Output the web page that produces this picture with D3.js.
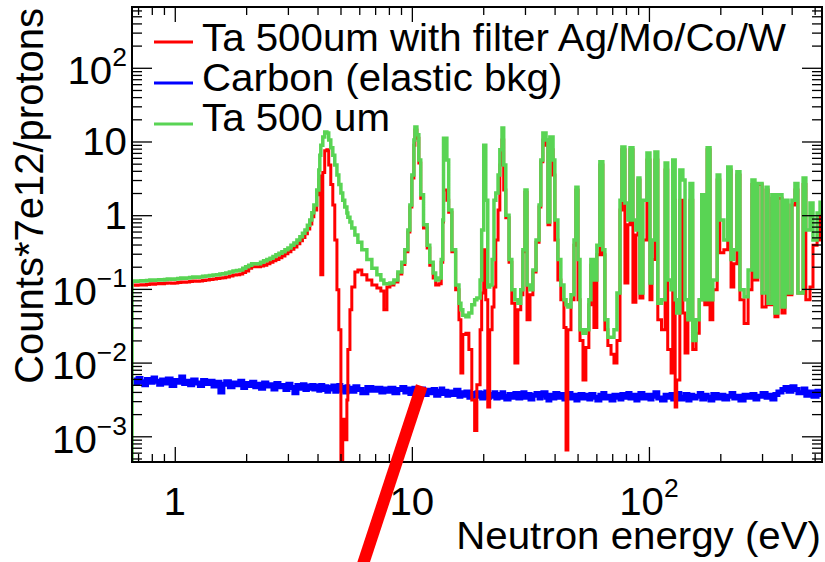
<!DOCTYPE html>
<html>
<head>
<meta charset="utf-8">
<script src="https://cdn.jsdelivr.net/npm/d3@7"></script>
<style>
body { margin: 0; background: #fff; }
svg { display: block; }
text { font-family: "Liberation Sans", Arial, Helvetica, sans-serif; fill: #000; }
</style>
</head>
<body>
<div id="chart"></div>
<script>

// bin low edges, neutron energy in eV
var energy = [
  0.66, 0.68, 0.70, 0.72, 0.74, 0.76, 0.785, 0.81, 0.83, 0.855,
  0.88, 0.905, 0.93, 0.965, 1.0, 1.03, 1.06, 1.09, 1.12, 1.155,
  1.19, 1.23, 1.27, 1.31, 1.35, 1.40, 1.45, 1.50, 1.55, 1.595,
  1.64, 1.70, 1.76, 1.82, 1.88, 1.935, 1.99, 2.05, 2.11, 2.175,
  2.24, 2.30, 2.37, 2.445, 2.52, 2.595, 2.67, 2.75, 2.83, 2.915,
  3.0, 3.09, 3.18, 3.275, 3.37, 3.455, 3.54, 3.625, 3.71, 3.785,
  3.86, 3.97, 4.05, 4.09, 4.13, 4.21, 4.29, 4.38, 4.46, 4.55,
  4.64, 4.73, 4.83, 4.92, 5.02, 5.11, 5.21, 5.32, 5.37, 5.48,
  5.58, 5.75, 5.92, 6.15, 6.46, 6.78, 7.12, 7.40, 7.62, 7.85,
  8.08, 8.40, 8.73, 9.07, 9.34, 9.62, 9.81, 10.0, 10.2, 10.3,
  10.5, 10.7, 10.9, 11.2, 11.6, 11.9, 12.3, 12.6, 13.0, 13.3,
  13.5, 13.6, 14.05, 14.3, 14.75, 15.3, 15.8, 16.1, 16.4, 16.9,
  17.4, 17.9, 18.4, 18.8, 19.4, 19.7, 20.1, 20.5, 20.9, 21.3,
  21.8, 22.2, 22.6, 23.1, 23.5, 24.0, 24.4, 24.9, 25.7, 26.4,
  27.2, 28.0, 28.8, 29.4, 30.0, 30.6, 31.5, 32.4, 33.4, 34.4,
  35.0, 35.7, 36.8, 37.5, 38.2, 39.4, 40.1, 41.3, 42.5, 43.8,
  44.7, 45.5, 46.9, 48.3, 49.2, 50.2, 51.2, 52.7, 54.2, 55.8,
  56.9, 58.6, 60.3, 62.1, 63.9, 65.2, 67.1, 69.2, 71.2, 73.3,
  75.5, 76.9, 79.2, 81.5, 83.2, 85.6, 88.1, 89.9, 91.6, 94.3,
  98.1, 101, 103, 106, 109, 113, 117, 120, 124, 126,
  129, 131, 135, 139, 142, 146, 149, 153, 158, 163,
  167, 172, 176, 181, 186, 194, 199, 207, 215, 222,
  228, 235, 242, 252, 262, 272, 280, 288, 300, 312,
  318, 330, 340, 350, 364, 375, 386, 401, 413, 425,
  447, 459, 478, 492, 512, 527
];

// Ta 500 um with filter Ag/Mo/Co/W (red)
var taFiltered = [
  0.113, 0.112, 0.113, 0.114, 0.113, 0.115, 0.117, 0.116, 0.117, 0.118,
  0.117, 0.119, 0.12, 0.119, 0.12, 0.122, 0.124, 0.123, 0.124, 0.126,
  0.128, 0.127, 0.128, 0.13, 0.132, 0.134, 0.136, 0.138, 0.14, 0.142,
  0.145, 0.15, 0.154, 0.156, 0.159, 0.167, 0.175, 0.19, 0.2, 0.2,
  0.2, 0.205, 0.21, 0.22, 0.23, 0.24, 0.25, 0.265, 0.28, 0.3,
  0.32, 0.345, 0.37, 0.41, 0.45, 0.5, 0.56, 0.65, 0.76, 0.95,
  1.18, 1.9, 3.0, 3.4, 0.155, 3.8, 7.5, 7.7, 4.8, 2.6,
  1.37, 0.46, 0.097, 0.028, 0.0003, 0.0017, 0.0009, 0.0031, 0.015, 0.052,
  0.106, 0.17, 0.18, 0.155, 0.132, 0.113, 0.103, 0.094, 0.052, 0.106,
  0.113, 0.124, 0.159, 0.215, 0.32, 0.59, 1.29, 3.2, 8.9, 14.3,
  11.1, 5.1, 1.7, 0.67, 0.36, 0.21, 0.14, 0.113, 0.117, 0.23,
  0.81, 2.2, 1.6, 1.1, 0.32, 0.097, 0.038, 0.0072, 0.024, 0.025,
  0.015, 0.0031, 0.0012, 0.005, 0.028, 0.088, 0.34, 0.071, 0.0025, 0.028,
  0.057, 0.106, 0.46, 1.18, 4.8, 10.5, 2.2, 0.92, 0.23, 0.064,
  0.0099, 0.052, 0.083, 0.32, 2.05, 0.038, 0.083, 0.17, 0.43, 1.29,
  5.3, 10.5, 8.9, 0.74, 7.7, 3.5, 0.46, 0.132, 0.071, 0.03,
  0.00065, 0.028, 0.071, 0.39, 2.2, 0.071, 0.02, 0.0058, 0.016, 0.061,
  0.21, 0.03, 0.29, 4.8, 0.29, 0.028, 0.017, 0.013, 0.0099, 0.02,
  1.18, 7.7, 0.12, 0.74, 7.7, 0.066, 0.54, 3.0, 0.075, 0.46,
  5.6, 0.071, 0.25, 5.6, 0.038, 0.028, 4.1, 0.015, 0.0072, 1.6,
  0.0025, 0.0058, 1.6, 0.047, 0.0135, 0.038, 1.6, 0.015, 0.025, 0.071,
  1.6, 0.061, 7.7, 0.038, 0.097, 3.0, 0.31, 0.34, 4.1, 0.106,
  0.22, 3.5, 0.071, 0.034, 0.097, 2.6, 0.132, 2.6, 0.057, 2.2,
  0.061, 1.7, 0.042, 1.7, 0.047, 1.37, 0.083, 1.37, 2.2, 0.088,
  2.6, 0.071, 0.106, 0.39, 0.46, 1.0
];

// Carbon (elastic bkg) (blue)
var carbon = [
  0.0058, 0.0052, 0.0061, 0.0055, 0.0050, 0.0059, 0.0054, 0.0062, 0.0056, 0.0051,
  0.0058, 0.0053, 0.0060, 0.0049, 0.0057, 0.0054, 0.0064, 0.0052, 0.0056, 0.0050,
  0.0058, 0.0053, 0.0049, 0.0057, 0.0052, 0.0056, 0.0048, 0.0054, 0.0040, 0.0051,
  0.0055, 0.0047, 0.0053, 0.0050, 0.0056, 0.0046, 0.0052, 0.0049, 0.0054, 0.0047,
  0.0051, 0.0045, 0.0053, 0.0048, 0.0050, 0.0044, 0.0052, 0.0047, 0.0049, 0.0043,
  0.0051, 0.0046, 0.0039, 0.0049, 0.0045, 0.0050, 0.0043, 0.0048, 0.0045, 0.0049,
  0.0044, 0.0048, 0.0042, 0.0046, 0.0049, 0.0043, 0.0047, 0.0041, 0.0046, 0.0044,
  0.0048, 0.0041, 0.0045, 0.0049, 0.0042, 0.0046, 0.0040, 0.0047, 0.0043, 0.0045,
  0.0041, 0.0047, 0.0043, 0.0039, 0.0046, 0.0042, 0.0045, 0.0040, 0.0044, 0.0041,
  0.0045, 0.0039, 0.0043, 0.0046, 0.0040, 0.0044, 0.0038, 0.0042, 0.0045, 0.0039,
  0.0043, 0.0040, 0.0044, 0.0037, 0.0042, 0.0039, 0.0043, 0.0036, 0.0041, 0.0044,
  0.0038, 0.0041, 0.0036, 0.0040, 0.0037, 0.0042, 0.0035, 0.0039, 0.0036, 0.0040,
  0.0034, 0.0038, 0.0035, 0.0039, 0.0036, 0.0033, 0.0038, 0.0040, 0.0034, 0.0037,
  0.0035, 0.0039, 0.0033, 0.0037, 0.0034, 0.0039, 0.0035, 0.0032, 0.0037, 0.0034,
  0.0038, 0.0033, 0.0036, 0.0039, 0.0034, 0.0037, 0.0032, 0.0036, 0.0038, 0.0033,
  0.0036, 0.0039, 0.0034, 0.0031, 0.0036, 0.0033, 0.0038, 0.0034, 0.0037, 0.0032,
  0.0035, 0.0038, 0.0033, 0.0036, 0.0031, 0.0035, 0.0037, 0.0033, 0.0036, 0.0032,
  0.0037, 0.0034, 0.0031, 0.0036, 0.0038, 0.0033, 0.0035, 0.0031, 0.0036, 0.0034,
  0.0032, 0.0037, 0.0034, 0.0038, 0.0033, 0.0036, 0.0031, 0.0035, 0.0038, 0.0033,
  0.0036, 0.0032, 0.0035, 0.0039, 0.0033, 0.0031, 0.0036, 0.0034, 0.0037, 0.0032,
  0.0035, 0.0038, 0.0032, 0.0034, 0.0037, 0.0031, 0.0036, 0.0033, 0.0035, 0.0038,
  0.0032, 0.0036, 0.0034, 0.0031, 0.0037, 0.0033, 0.0036, 0.0032, 0.0035, 0.0038,
  0.0033, 0.0035, 0.0031, 0.0036, 0.0034, 0.0037, 0.0032, 0.0035, 0.0038, 0.0034,
  0.0036, 0.0032, 0.0037, 0.0040, 0.0043, 0.0046, 0.0041, 0.0047, 0.0043, 0.0039,
  0.0044, 0.0036, 0.0040, 0.0035, 0.0041, 0.0037
];

// Ta 500 um (green)
var ta500 = [
  0.128, 0.127, 0.128, 0.129, 0.128, 0.130, 0.132, 0.131, 0.132, 0.133,
  0.132, 0.134, 0.136, 0.135, 0.136, 0.138, 0.14, 0.139, 0.14, 0.143,
  0.145, 0.144, 0.145, 0.148, 0.15, 0.152, 0.154, 0.156, 0.159, 0.161,
  0.164, 0.17, 0.175, 0.177, 0.18, 0.19, 0.2, 0.21, 0.22, 0.22,
  0.22, 0.23, 0.24, 0.25, 0.26, 0.275, 0.29, 0.305, 0.32, 0.34,
  0.36, 0.39, 0.42, 0.46, 0.51, 0.57, 0.63, 0.73, 0.86, 1.08,
  1.37, 2.2, 4.1, 6.5, 8.9, 11.5, 13.5, 13, 10.5, 8.2,
  6.5, 4.8, 3.5, 2.6, 2.0, 1.6, 1.29, 1.07, 0.94, 0.81,
  0.67, 0.54, 0.43, 0.34, 0.25, 0.19, 0.155, 0.132, 0.117, 0.117,
  0.12, 0.132, 0.17, 0.23, 0.34, 0.63, 1.37, 3.5, 10.5, 15.7,
  12.3, 5.6, 1.9, 0.74, 0.39, 0.23, 0.164, 0.132, 0.14, 0.25,
  0.86, 11.1, 5.6, 1.18, 0.34, 0.113, 0.064, 0.052, 0.044, 0.042,
  0.047, 0.061, 0.071, 0.075, 0.132, 0.63, 8.9, 1.6, 0.106, 0.113,
  0.25, 1.6, 2.0, 3.5, 7.7, 15.2, 4.8, 1.0, 0.25, 0.097,
  0.071, 0.064, 0.097, 0.34, 2.2, 0.113, 0.097, 0.18, 0.46, 1.37,
  5.6, 13, 10.5, 0.81, 11.5, 5.6, 0.86, 0.25, 0.113, 0.071,
  0.061, 0.057, 0.083, 0.46, 2.4, 0.25, 0.028, 0.025, 0.028, 0.071,
  0.25, 0.132, 0.39, 5.3, 0.34, 0.038, 0.022, 0.022, 0.028, 0.088,
  1.6, 8.4, 1.46, 0.86, 8.2, 0.86, 0.63, 3.2, 0.088, 1.6,
  7.0, 0.12, 0.46, 7.2, 0.064, 0.071, 5.1, 0.132, 0.097, 5.6,
  0.071, 0.047, 4.1, 3.0, 0.071, 0.038, 2.7, 0.02, 0.038, 0.071,
  1.9, 0.071, 8.2, 0.071, 0.132, 3.5, 0.86, 0.46, 4.5, 0.25,
  0.34, 3.9, 0.097, 0.078, 0.18, 3.0, 0.145, 2.7, 0.088, 2.4,
  0.064, 1.9, 0.047, 1.9, 0.057, 1.6, 0.088, 1.6, 2.7, 0.088,
  3.2, 0.63, 1.46, 0.46, 1.07, 1.5
];

var legendLabels = ["Ta 500um with filter Ag/Mo/Co/W", "Carbon (elastic bkg)", "Ta 500 um"];
var legendColors = ["#ff0000", "#0000ff", "#59d454"];

var xTitle = "Neutron energy (eV)";
var yTitle = "Counts*7e12/protons";

// thick red pointer drawn over the plot (data coords: tip, tail)
var pointerTip = [11.0, 4.8e-3],
    pointerTail = [5.9, 1.1e-5];

var margin = {top: 7, right: 3, bottom: 100, left: 132},
    width = 825 - margin.left - margin.right,
    height = 562 - margin.top - margin.bottom;

var fs = 38, sx = 1.06;

var svg = d3.select("#chart")
  .append("svg")
    .attr("width", 825)
    .attr("height", 562);

var x = d3.scaleLog().domain([0.66, 537]).range([0, width]);
var y = d3.scaleLog().domain([4.48e-4, 668]).range([height, 0]);

svg.append("defs").append("clipPath").attr("id", "plotclip")
  .append("rect").attr("width", width).attr("height", height);

var g = svg.append("g")
  .attr("transform", "translate(" + margin.left + "," + margin.top + ")");

var plot = g.append("g").attr("clip-path", "url(#plotclip)");

function histPoints(vals) {
  var pts = energy.map(function(e, i) { return [e, vals[i]]; });
  pts.push([x.domain()[1], vals[vals.length - 1]]);
  return pts;
}

var line = d3.line()
  .x(function(d) { return x(d[0]); })
  .y(function(d) { return y(d[1]); })
  .curve(d3.curveStepAfter);

plot.append("path")
  .attr("d", line(histPoints(carbon)))
  .attr("fill", "none")
  .attr("stroke", legendColors[1])
  .attr("stroke-width", 5);

plot.append("path")
  .attr("d", line(histPoints(taFiltered)))
  .attr("fill", "none")
  .attr("stroke", legendColors[0])
  .attr("stroke-width", 3);

// green histogram rises from the bottom at its first bin
var greenPts = histPoints(ta500);
greenPts.unshift([energy[0], y.domain()[0]]);
plot.append("path")
  .attr("d", line(greenPts))
  .attr("fill", "none")
  .attr("stroke", legendColors[2])
  .attr("stroke-width", 3.5);

// ticks on all four sides, pointing inward
function isMajor(v) { var l = Math.log10(v); return Math.abs(l - Math.round(l)) < 1e-6; }
var xAll = x.ticks(), yAll = y.ticks();
var xMaj = xAll.filter(isMajor), xMin = xAll.filter(function(v) { return !isMajor(v); });
var yMaj = yAll.filter(isMajor), yMin = yAll.filter(function(v) { return !isMajor(v); });
var noLabel = function() { return ""; };

function ticks(axis, vals, len, tr) {
  g.append("g")
    .attr("transform", tr)
    .call(axis.tickValues(vals).tickSizeInner(-len).tickSizeOuter(0).tickFormat(noLabel))
    .call(function(a) {
      a.select(".domain").remove();
      a.selectAll("line").attr("stroke", "#000").attr("stroke-width", 1.3);
    });
}
ticks(d3.axisBottom(x), xMaj, 15, "translate(0," + height + ")");
ticks(d3.axisBottom(x), xMin, 8, "translate(0," + height + ")");
ticks(d3.axisTop(x), xMaj, 15, "translate(0,0)");
ticks(d3.axisTop(x), xMin, 8, "translate(0,0)");
ticks(d3.axisLeft(y), yMaj, 20, "translate(0,0)");
ticks(d3.axisLeft(y), yMin, 10, "translate(0,0)");
ticks(d3.axisRight(y), yMaj, 20, "translate(" + width + ",0)");
ticks(d3.axisRight(y), yMin, 10, "translate(" + width + ",0)");

g.append("rect")
  .attr("width", width)
  .attr("height", height)
  .attr("fill", "none")
  .attr("stroke", "#000")
  .attr("stroke-width", 2);

// tick labels, ROOT style 10^n
function powLabel(t, v) {
  var e = Math.round(Math.log10(v));
  if (e === 0 || e === 1) { t.text(String(Math.round(v))); return false; }
  t.append("tspan").text("10");
  t.append("tspan").attr("dy", -18).style("font-size", "25px")
    .text(e < 0 ? "\u2212" + (-e) : String(e));
  return true;
}

xMaj.forEach(function(v) {
  var t = svg.append("text")
    .attr("text-anchor", "middle")
    .style("font-size", fs + "px")
    .attr("transform", "translate(" + (margin.left + x(v)) + ",515) scale(" + sx + ",1)");
  powLabel(t, v);
});

yMaj.forEach(function(v) {
  var t = svg.append("text")
    .attr("text-anchor", "end")
    .style("font-size", fs + "px");
  var sup = powLabel(t, v);
  t.attr("transform", "translate(127," + (margin.top + y(v) + (sup ? 16.5 : 13.5)) + ") scale(" + sx + ",1)");
});

// axis titles
svg.append("text")
  .attr("text-anchor", "end")
  .style("font-size", fs + "px")
  .attr("transform", "translate(821,549) scale(" + sx + ",1)")
  .text(xTitle);

svg.append("text")
  .attr("text-anchor", "end")
  .style("font-size", "40px")
  .attr("transform", "translate(43,8) rotate(-90)")
  .text(yTitle);

// legend
legendLabels.forEach(function(lab, i) {
  var ly = 42 + i * 41;
  svg.append("line")
    .attr("x1", 154).attr("x2", 193)
    .attr("y1", ly).attr("y2", ly)
    .attr("stroke", legendColors[i])
    .attr("stroke-width", 3);
  svg.append("text")
    .style("font-size", fs + "px")
    .attr("transform", "translate(202," + (51 + i * 40) + ") scale(" + sx + ",1)")
    .text(lab);
});

// red pointer on top of everything
g.append("line")
  .attr("x1", x(pointerTip[0])).attr("y1", y(pointerTip[1]))
  .attr("x2", x(pointerTail[0])).attr("y2", y(pointerTail[1]))
  .attr("stroke", "#ff0000")
  .attr("stroke-width", 12);

</script>
</body>
</html>
